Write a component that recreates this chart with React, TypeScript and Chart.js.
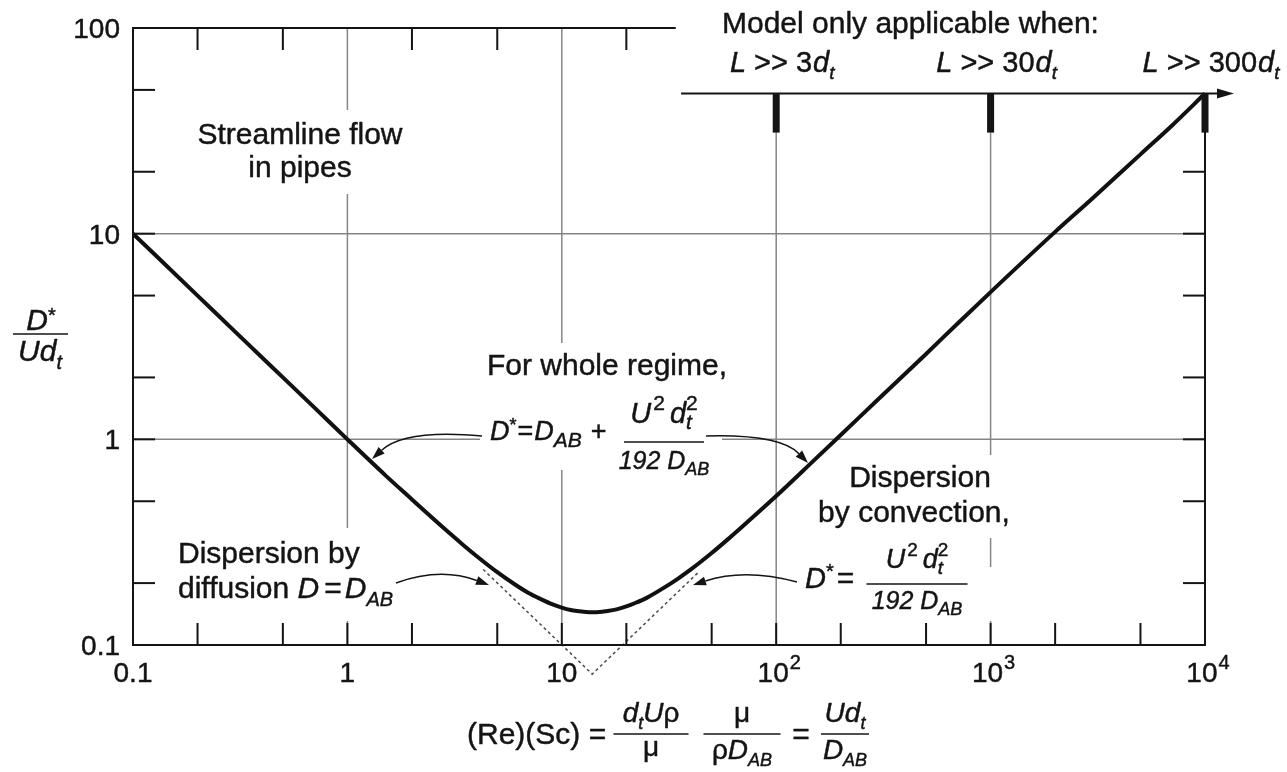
import React, { useEffect, useRef } from 'react';
import { Chart, registerables } from 'chart.js';

Chart.register(...registerables);

// ---- data ----
const reScValues = [0.1, 0.2, 0.3, 0.5, 0.7, 1, 1.5, 2, 2.5, 3, 3.5, 4, 5, 6, 7, 8, 9, 10, 11, 12, 13, 14, 15, 16, 18, 20, 22, 25, 30, 35, 40, 50, 60, 70, 100, 150, 200, 300, 500, 700, 1000, 2000, 3000, 5000, 7000, 10000];
const dispersionValues = [10, 5.0, 3.33, 2.0, 1.43, 1.0, 0.67, 0.51, 0.413, 0.349, 0.304, 0.271, 0.226, 0.198, 0.179, 0.167, 0.158, 0.152, 0.148, 0.146, 0.1446, 0.1443, 0.1448, 0.146, 0.149, 0.154, 0.160, 0.170, 0.19, 0.211, 0.233, 0.28, 0.329, 0.379, 0.53, 0.79, 1.05, 1.57, 2.6, 3.65, 5.2, 10.2, 14.9, 24.3, 33.5, 48];

const asymptoteX = [4.3, 13.86, 44];
const asymptoteY = [0.233, 0.0722, 0.229];

const xMajorTicks = [0.1, 1, 10, 100, 1000, 10000];
const xTickLabels = ['0.1', '1', '10', '10^2', '10^3', '10^4'];
const yMajorTicks = [0.1, 1, 10, 100];
const yTickLabels = ['0.1', '1', '10', '100'];
const decadeStarts = [0.1, 1, 10, 100, 1000];
const minorMultipliers = [2, 5];
const gridXValues = [1, 10, 100, 1000];
const gridYValues = [1, 10];

const criteriaX = [100, 1000, 10000];
const criteriaLabels = ['3', '30', '300'];
const criteriaLineY = 48;
const criteriaBarBottomY = 31;
const criteriaLineStartX = 36;
const topAxisEndX = 34;

// ---- drawing helpers ----
const FONT = '"Liberation Sans", Arial, Helvetica, sans-serif';
const INK = '#141414';

type Seg = { t: string; s?: number; i?: boolean; dy?: number; dx?: number; stack?: boolean };

function fontOf(seg: Seg, base: number) {
  return `${seg.i ? 'italic ' : ''}${seg.s ?? base}px ${FONT}`;
}

function layout(ctx: CanvasRenderingContext2D, segs: Seg[], base: number) {
  let x = 0;
  let prevStart = 0;
  const items: { seg: Seg; x: number }[] = [];
  for (const seg of segs) {
    ctx.font = fontOf(seg, base);
    const w = ctx.measureText(seg.t).width;
    const sx = seg.stack ? prevStart : x + (seg.dx ?? 0);
    items.push({ seg, x: sx });
    if (!seg.stack) prevStart = sx;
    x = Math.max(x, sx + w);
  }
  return { items, width: x };
}

function drawRich(ctx: CanvasRenderingContext2D, segs: Seg[], x: number, y: number, align: 'left' | 'center' | 'right', base = 30) {
  const { items, width } = layout(ctx, segs, base);
  const start = align === 'center' ? x - width / 2 : align === 'right' ? x - width : x;
  ctx.textAlign = 'left';
  ctx.textBaseline = 'alphabetic';
  ctx.fillStyle = INK;
  ctx.strokeStyle = INK;
  ctx.lineWidth = 0.45;
  ctx.lineJoin = 'round';
  for (const it of items) {
    ctx.font = fontOf(it.seg, base);
    ctx.fillText(it.seg.t, start + it.x, y + (it.seg.dy ?? 0));
    ctx.strokeText(it.seg.t, start + it.x, y + (it.seg.dy ?? 0));
  }
  return width;
}

function drawFrac(ctx: CanvasRenderingContext2D, num: Seg[], den: Seg[], cx: number, barY: number, barW: number,
  numBase: number, denBase: number, numY: number, denY: number) {
  ctx.strokeStyle = INK;
  ctx.lineWidth = 1.7;
  ctx.beginPath();
  ctx.moveTo(cx - barW / 2, barY);
  ctx.lineTo(cx + barW / 2, barY);
  ctx.stroke();
  drawRich(ctx, num, cx, numY, 'center', numBase);
  drawRich(ctx, den, cx, denY, 'center', denBase);
}

function line(ctx: CanvasRenderingContext2D, x1: number, y1: number, x2: number, y2: number) {
  ctx.beginPath();
  ctx.moveTo(x1, y1);
  ctx.lineTo(x2, y2);
  ctx.stroke();
}

function curvedArrow(ctx: CanvasRenderingContext2D, from: number[], ctrl: number[], to: number[]) {
  ctx.strokeStyle = INK;
  ctx.fillStyle = INK;
  ctx.lineWidth = 1.5;
  const ang = Math.atan2(to[1] - ctrl[1], to[0] - ctrl[0]);
  const len = 13;
  const half = 4.5;
  const bx = to[0] - len * Math.cos(ang);
  const by = to[1] - len * Math.sin(ang);
  ctx.beginPath();
  ctx.moveTo(from[0], from[1]);
  ctx.quadraticCurveTo(ctrl[0], ctrl[1], bx, by);
  ctx.stroke();
  ctx.beginPath();
  ctx.moveTo(to[0], to[1]);
  ctx.lineTo(bx - half * Math.sin(ang), by + half * Math.cos(ang));
  ctx.lineTo(bx + half * Math.sin(ang), by - half * Math.cos(ang));
  ctx.closePath();
  ctx.fill();
}

function parseTick(label: string): Seg[] {
  const [b, e] = label.split('^');
  return e ? [{ t: b }, { t: e, s: 20, dy: -13, dx: 1 }] : [{ t: b }];
}

const DAB: Seg[] = [{ t: 'D', i: true }, { t: 'AB', i: true, s: 18, dy: 7 }];

// white boxes behind labels (they interrupt the grid lines)
const labelMasks = [
  [192, 110, 216, 84],
  [480, 343, 242, 127],
  [172, 528, 230, 93],
  [820, 455, 188, 83],
  [800, 567, 195, 54],
];

const annotatePlugin = {
  id: 'annotate',
  beforeDatasetsDraw(chart: any) {
    const { ctx, chartArea: a, scales } = chart;
    const xs = scales.x;
    const ys = scales.y;
    ctx.save();
    ctx.strokeStyle = '#858585';
    ctx.lineWidth = 1.5;
    for (const v of gridXValues) {
      const px = xs.getPixelForValue(v);
      const top = criteriaX.includes(v) ? ys.getPixelForValue(criteriaBarBottomY) : a.top;
      line(ctx, px, top, px, a.bottom);
    }
    for (const v of gridYValues) {
      const py = ys.getPixelForValue(v);
      line(ctx, a.left, py, a.right, py);
    }
    ctx.fillStyle = '#ffffff';
    for (const m of labelMasks) ctx.fillRect(m[0], m[1], m[2], m[3]);
    ctx.restore();
  },
  afterDatasetsDraw(chart: any) {
    const { ctx, chartArea: a, scales } = chart;
    const xs = scales.x;
    const ys = scales.y;
    const X = (v: number) => xs.getPixelForValue(v);
    const Y = (v: number) => ys.getPixelForValue(v);
    ctx.save();
    ctx.strokeStyle = INK;
    ctx.lineWidth = 2;
    ctx.lineCap = 'butt';

    const critY = Y(criteriaLineY);
    // axes frame
    line(ctx, a.left, a.top - 1, a.left, a.bottom + 1);
    line(ctx, a.left - 1, a.bottom, a.right + 1, a.bottom);
    line(ctx, a.left, a.top, X(topAxisEndX), a.top);
    line(ctx, a.right, critY, a.right, a.bottom + 1);

    // ticks
    const TL = 22;
    const allX: number[] = [];
    const allY: number[] = [];
    for (const d of decadeStarts) {
      for (const m of [1, ...minorMultipliers]) allX.push(d * m);
    }
    for (const d of decadeStarts.slice(0, 3)) {
      for (const m of [1, ...minorMultipliers]) allY.push(d * m);
    }
    for (const v of allX) {
      if (v <= 0.1 || v >= 10000) continue;
      const px = X(v);
      line(ctx, px, a.bottom, px, a.bottom - TL);
      const isMajor = xMajorTicks.includes(v);
      if (!isMajor && v <= topAxisEndX) line(ctx, px, a.top, px, a.top + TL);
    }
    for (const v of allY) {
      if (v <= 0.1 || v >= 100) continue;
      const py = Y(v);
      line(ctx, a.left, py, a.left + TL, py);
      if (py > critY + 3) line(ctx, a.right, py, a.right - TL, py);
    }

    // "model only applicable" scale
    ctx.lineWidth = 2;
    line(ctx, X(criteriaLineStartX), critY, a.right + 16, critY);
    ctx.fillStyle = INK;
    ctx.beginPath();
    ctx.moveTo(a.right + 29, critY);
    ctx.lineTo(a.right + 12, critY - 5);
    ctx.lineTo(a.right + 12, critY + 5);
    ctx.closePath();
    ctx.fill();
    const barBottom = Y(criteriaBarBottomY);
    criteriaX.forEach((v, i) => {
      const px = X(v);
      ctx.fillRect(px - 3.5, critY, 7, barBottom - critY);
      drawRich(ctx, [{ t: 'L', i: true }, { t: ' >> ' + criteriaLabels[i] }, { t: 'd', i: true, dx: 1 }, { t: 't', i: true, s: 19, dy: 7 }],
        px + 6, 72, 'center', 29);
    });
    drawRich(ctx, [{ t: 'Model only applicable when:' }], 722, 33, 'left', 30);

    // tick labels
    xMajorTicks.forEach((v, i) => {
      drawRich(ctx, parseTick(xTickLabels[i]), X(v) + (xTickLabels[i].includes('^') ? 3 : 0), a.bottom + 37, 'center', 28);
    });
    yMajorTicks.forEach((v, i) => {
      drawRich(ctx, [{ t: yTickLabels[i] }], a.left - 13, Y(v) + 10, 'right', 28);
    });

    // axis titles
    drawRich(ctx, [{ t: 'D', i: true }, { t: '*', s: 20, dy: -8 }], 41, 330, 'center', 30);
    ctx.strokeStyle = INK;
    ctx.lineWidth = 1.7;
    line(ctx, 13, 334, 68, 334);
    drawRich(ctx, [{ t: 'U', i: true }, { t: 'd', i: true }, { t: 't', i: true, s: 20, dy: 8 }], 40, 361, 'center', 30);

    drawRich(ctx, [{ t: '(Re)(Sc) =' }], 467, 744, 'left', 30);
    drawFrac(ctx, [{ t: 'd', i: true }, { t: 't', i: true, s: 18, dy: 7 }, { t: 'U', i: true }, { t: 'ρ' }],
      [{ t: 'μ' }], 651, 734, 75, 28, 28, 722, 756);
    drawFrac(ctx, [{ t: 'μ' }], [{ t: 'ρ' }, ...DAB], 742, 734, 77, 28, 28, 722, 759);
    drawRich(ctx, [{ t: '=' }], 801, 744, 'center', 30);
    drawFrac(ctx, [{ t: 'U', i: true }, { t: 'd', i: true }, { t: 't', i: true, s: 18, dy: 7 }],
      DAB, 845, 734, 48, 28, 28, 722, 759);

    // annotations
    drawRich(ctx, [{ t: 'Streamline flow' }], 300, 144, 'center', 30);
    drawRich(ctx, [{ t: 'in pipes' }], 300, 177, 'center', 30);
    drawRich(ctx, [{ t: 'For whole regime,' }], 607, 375, 'center', 30);

    drawRich(ctx, [{ t: 'D', i: true }, { t: '*', s: 18, dy: -9 }, { t: '=', dx: 1 }, { t: 'D', i: true, dx: 1 },
      { t: 'AB', i: true, s: 21, dy: 7 }, { t: '+', dx: 9 }], 490, 440, 'left', 27);
    const numUd = (b: number): Seg[] => [{ t: 'U', i: true }, { t: '2', s: Math.round(b * 0.72), dy: -Math.round(b * 0.45), dx: 2 },
      { t: 'd', i: true, dx: 5 }, { t: 't', i: true, s: Math.round(b * 0.72), dy: 6 },
      { t: '2', s: Math.round(b * 0.72), dy: -Math.round(b * 0.45), stack: true }];
    const den192: Seg[] = [{ t: '192 ', i: true }, { t: 'D', i: true }, { t: 'AB', i: true, s: 18, dy: 6 }];
    drawFrac(ctx, numUd(29), den192, 664, 442, 80, 29, 25, 423, 469);

    drawRich(ctx, [{ t: 'Dispersion by' }], 178, 563, 'left', 30);
    drawRich(ctx, [{ t: 'diffusion ' }, { t: 'D', i: true }, { t: '=', dx: 5 }, { t: 'D', i: true, dx: 3 },
      { t: 'AB', i: true, s: 20, dy: 8 }], 178, 598, 'left', 30);

    drawRich(ctx, [{ t: 'Dispersion' }], 920, 487, 'center', 30);
    drawRich(ctx, [{ t: 'by convection,' }], 914, 522, 'center', 30);
    drawRich(ctx, [{ t: 'D', i: true }, { t: '*', s: 20, dy: -10 }, { t: '=', dx: 3, s: 30 }], 805, 588, 'left', 29);
    drawFrac(ctx, numUd(27), den192, 917, 584, 101, 27, 25, 568, 609);

    // curved pointer arrows
    curvedArrow(ctx, [482, 436], [405, 429], [372, 459]);
    curvedArrow(ctx, [706, 436], [780, 434], [808, 463]);
    curvedArrow(ctx, [396, 583], [440, 567], [489, 585]);
    curvedArrow(ctx, [797, 582], [745, 568], [693, 585]);

    ctx.restore();
  },
};

export default function App() {
  const canvasRef = useRef<HTMLCanvasElement | null>(null);

  useEffect(() => {
    const canvas = canvasRef.current;
    if (!canvas) return;
    const chart = new Chart(canvas, {
      type: 'line',
      data: {
        datasets: [
          {
            data: reScValues.map((x, i) => ({ x, y: dispersionValues[i] })),
            borderColor: '#111111',
            borderWidth: 4,
            pointRadius: 0,
            cubicInterpolationMode: 'monotone',
            borderJoinStyle: 'round',
            fill: false,
          },
          {
            data: asymptoteX.map((x, i) => ({ x, y: asymptoteY[i] })),
            borderColor: '#4a4a4a',
            borderWidth: 1.5,
            borderDash: [3, 3],
            pointRadius: 0,
            tension: 0,
            clip: false,
            fill: false,
          },
        ],
      } as any,
      options: {
        animation: false,
        responsive: false,
        devicePixelRatio: 1,
        layout: { padding: { left: 133, right: 82, top: 28, bottom: 127 } },
        plugins: { legend: { display: false }, tooltip: { enabled: false } },
        events: [],
        scales: {
          x: { type: 'logarithmic', min: 0.1, max: 10000, display: false },
          y: { type: 'logarithmic', min: 0.1, max: 100, display: false },
        },
      } as any,
      plugins: [annotatePlugin],
    });
    return () => chart.destroy();
  }, []);

  return (
    <div style={{ position: 'absolute', left: 0, top: 0, width: 1287, height: 772, background: '#ffffff' }}>
      <canvas ref={canvasRef} width={1287} height={772} style={{ display: 'block' }} />
    </div>
  );
}
